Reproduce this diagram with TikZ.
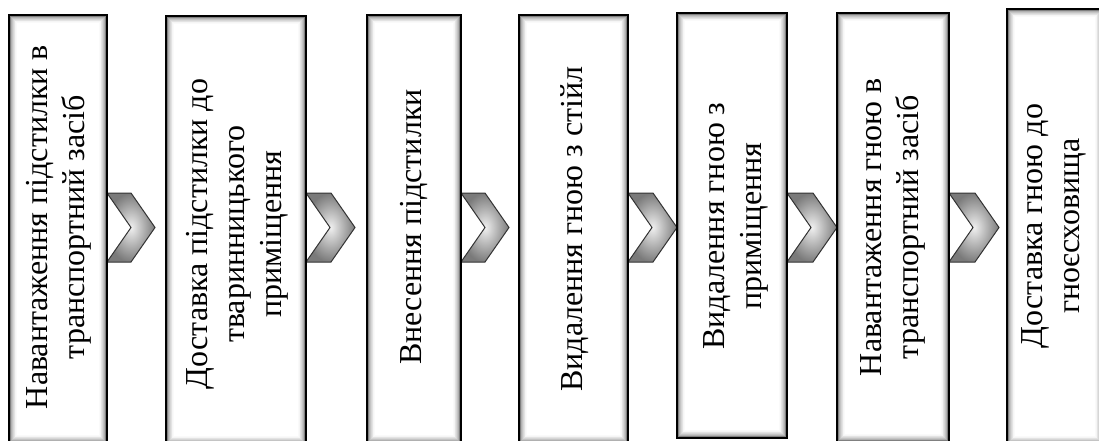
\documentclass[tikz,border=0pt]{standalone}
\usepackage{fontspec}
\setmainfont{Liberation Serif}
\tikzset{
  lbl/.style={rotate=90, align=center, font=\fontsize{32}{37}\selectfont, inner sep=0pt},
  chev/.style={draw=black!80, line width=1pt, inner color=black!6, outer color=black!52},
  frame/.style={draw=black, line width=1.4pt},
}
\newcommand\glowbox[5]{%
  \foreach \k/\c in {0/62,0.8/50,1.6/40,2.4/31,3.2/23,4.0/16,4.8/11,5.6/7,6.4/4,7.2/2,8.0/0}{%
    \fill[black!\c] ({#2+\k},{#3+\k}) rectangle ({#4-\k},{#5-\k});}
  \draw[frame] (#2,#3) rectangle (#4,#5);
  \coordinate (#1) at ({(#2+#4)/2},{(#3+#5)/2});
}
\newcommand\chevron[3]{%
  \shadedraw[chev] (#2,193) -- ({#3-24},193) -- (#3,227.5) -- ({#3-24},262) -- (#2,262) -- ({#2+24},227.5) -- cycle;
  \coordinate (#1) at ({(#2+#3)/2},227.5);
}
\begin{document}
\begin{tikzpicture}[x=1pt,y=-1pt]
\useasboundingbox (0,0) rectangle (1099,441);
\clip (0,0) rectangle (1099,441);
\fill[white] (0,0) rectangle (1099,441);
% chevrons
\chevron{c1}{107}{155}
\chevron{c2}{306}{355}
\chevron{c3}{461}{509}
\chevron{c4}{628}{677}
\chevron{c5}{787}{837}
\chevron{c6}{949}{999}
% boxes
\glowbox{b1}{9}{15}{107}{443}
\glowbox{b2}{166}{16}{306}{444}
\glowbox{b3}{367}{15}{461}{443}
\glowbox{b4}{519}{15}{628}{443}
\glowbox{b5}{677}{13}{787}{438}
\glowbox{b6}{837}{13}{949}{442}
\glowbox{b7}{1007}{9}{1103}{444}
% labels
\node[lbl] (t1) at (59,227) {Навантаження підстилки в\\транспортний засіб};
\node[lbl] (t2) at (237,234) {Доставка підстилки до\\тваринницького\\приміщення};
\node[lbl] (t3) at (414,227) {Внесення підстилки};
\node[lbl] (t4) at (575,229) {Видалення гною з стійл};
\node[lbl] (t5) at (736,226) {Видалення гною з\\приміщення};
\node[lbl] (t6) at (893,227) {Навантаження гною в\\транспортний засіб};
\node[lbl] (t7) at (1054,226) {Доставка гною до\\гноєсховища};
\end{tikzpicture}
\end{document}
